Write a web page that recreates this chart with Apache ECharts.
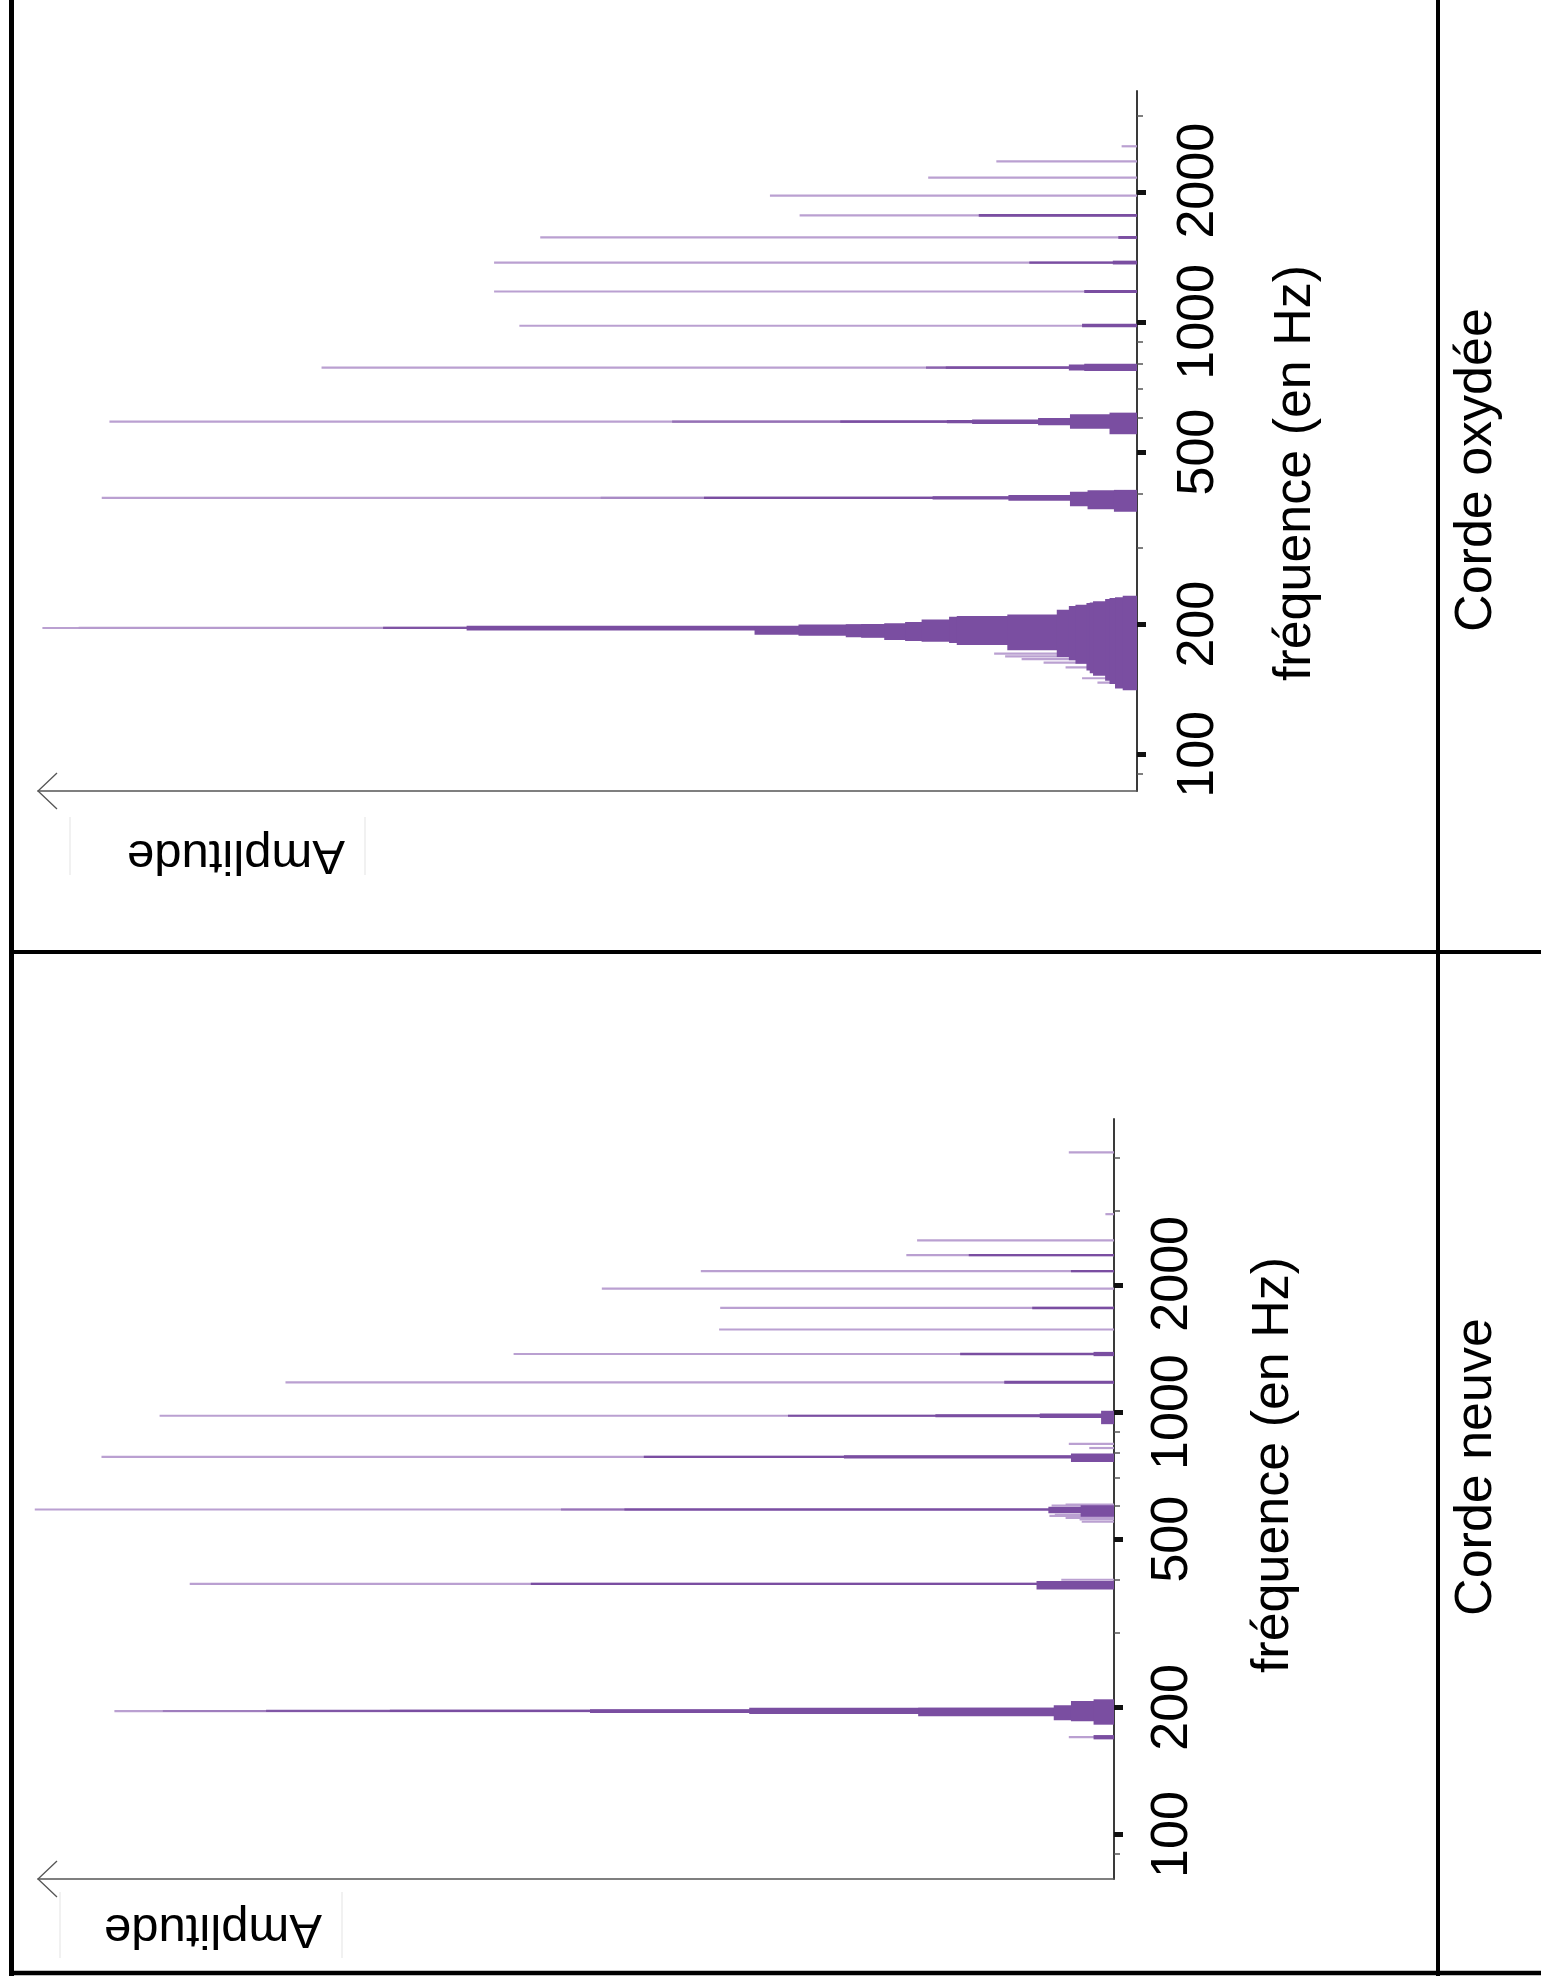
<!DOCTYPE html>
<html><head><meta charset="utf-8">
<script src="https://cdn.jsdelivr.net/npm/echarts@6/dist/echarts.min.js"></script>
<style>html,body{margin:0;padding:0;background:#fff}#c{width:1541px;height:1986px}</style>
</head><body><div id="c"></div>
<script>
// ---------- data ----------
const majorTicks = [100, 200, 500, 1000, 2000];
const minorTicksOxydee = [90, 300, 400, 600, 700, 800, 900, 3000];
const minorTicksNeuve = [90, 300, 400, 600, 700, 800, 900, 3000, 4000];
const freqRangeOxydee = [82.3, 3420];
const freqRangeNeuve = [78.5, 4938];
const ampRange = [0, 100];
const panelLabels = ['Corde oxydée', 'Corde neuve'];
const freqAxisName = 'fréquence (en Hz)';
const ampAxisName = 'Amplitude';

// spectral bands: [lowest freq (Hz), highest freq (Hz), amplitude (% of axis)]
const oxydeeBands = [
  // fundamental ~196 Hz and its skirt
  [196,196,99.6],[195.8,196.6,96.3],[195.3,197,68.6],[193.5,198.5,61],
  [189,198,34.8],[188,199.6,30.8],[186.6,200,26.5],[186.2,200.3,25.1],[184,201,23],
  [183,202.5,21.1],[182.3,205,19.6],[181,208,17.1],[179,209,16.4],[174.2,210.7,11.8],
  [168,216,7.3],[165,220.5,6.2],[162,222,5.6],[156.3,224,4.6],[154,224.5,4.3],
  [152.1,226,4.0],[148,228.7,2.9],[145.4,230,2.5],[142,231,2.0],[140.7,232.9,1.3],
  [171,171,13],[168.5,168.5,12],[166,166,10.5],[163,163,8.5],[159,159,6.5],[150,150,5],[146.5,146.5,3.6],
  // 392 Hz
  [392,392,94.2],[391,393,48.8],[390,394,39.4],[388.5,395.5,18.6],[386,398,11.7],
  [375,405,6.1],[369,408,4.5],[364,409,2.1],
  // 588 Hz
  [588,588,93.5],[586,590,42.3],[585,591,27],[583,593,17.3],[581,595,15],[577,600,9],
  [566,612,6.1],[550,617,2.5],
  // 784 Hz
  [784,784,74.2],[781,787,19.2],[779,789,17.4],[772,797,6.2],[770,800,4.8],
  // higher harmonics
  [980,980,56.2],[972,990,5.0],
  [1176,1176,58.5],[1166,1186,4.8],
  [1372,1372,58.5],[1364,1380,9.8],[1358,1386,2.2],
  [1568,1568,54.3],[1556,1580,1.7],
  [1764,1764,30.7],[1752,1776,14.4],
  [1960,1960,33.4],[2156,2156,19],[2352,2352,12.8],[2548,2548,1.4]
];

const neuveBands = [
  [170,170,4.2],[168,172,1.9],
  // fundamental ~196 Hz
  [196,196,92.9],[195.5,196.7,88.4],[195.3,197,78.8],[195,197.5,67.3],[194,198,48.7],
  [193,199.5,33.9],[190.5,199.5,18.2],[186.5,202.3,5.6],[185.5,207,4.0],[182,209,1.9],
  // 392 Hz
  [392,392,85.9],[389.5,394.5,54.2],[380,398,7.2],[401,401,4.9],
  // 588 Hz
  [588,588,100.3],[586,590,51.4],[584.5,591.5,45.5],[576,597,6.1],[565,602,3.1],
  [568,568,6],[571,571,5.5],[601,601,5.8],[604,604,4.5],[562,562,4.5],[557,557,3.2],[550,550,3.0],
  // 784 Hz
  [783,783,94.1],[778,788,43.7],[776,790,25.1],[762,798,4.0],[822,822,2.3],[841,841,4.2],
  // 980 Hz
  [980,980,88.7],[975,985,30.3],[972,988,16.6],[968,992,6.9],[936,1007,1.2],
  // higher harmonics
  [1176,1176,77],[1166,1186,10.2],
  [1372,1372,55.8],[1363,1381,14.3],[1356,1388,1.9],
  [1568,1568,36.7],
  [1764,1764,36.6],[1752,1776,7.6],
  [1960,1960,47.6],
  [2156,2156,38.4],[2144,2168,4.0],
  [2352,2352,19.3],[2338,2366,13.5],
  [2548,2548,18.3],
  [2940,2940,0.8],
  [4116,4116,4.2]
];

// ---------- chart ----------
const L10 = Math.log10;
const FONT = '"Liberation Sans", Arial, Helvetica, sans-serif';
function toData(bands) {
  return bands.map(b => [L10(b[0]), L10(b[1]), b[2]])
    .sort((a, b) => ((a[1] - a[0]) - (b[1] - b[0])) || (b[2] - a[2]));
}
const LIGHT = [186, 160, 209], DARK = [122, 78, 161];
function bandColor(h) {
  const t = Math.max(0, Math.min(1, (h - 0.7) / 1.0));
  const c = LIGHT.map((v, i) => Math.round(v + (DARK[i] - v) * t));
  return 'rgb(' + c.join(',') + ')';
}
function renderBand(params, api) {
  const f0 = api.value(0), f1 = api.value(1), a = api.value(2);
  const pa = api.coord([a, f0]);
  const pb = api.coord([a, f1]);
  const p0 = api.coord([0, f0]);
  const top = Math.min(pa[1], pb[1]), bot = Math.max(pa[1], pb[1]);
  const h = bot - top;
  const hr = Math.max(h, 2.2);
  const yc = (top + bot) / 2;
  return {
    type: 'rect',
    shape: { x: Math.min(pa[0], p0[0]), y: yc - hr / 2, width: Math.abs(p0[0] - pa[0]), height: hr },
    style: { fill: bandColor(h) }
  };
}

const G = [
  { left: 38, top: 91, width: 1099, height: 700, labelMargin: 36 },
  { left: 38, top: 1119, width: 1076, height: 760, labelMargin: 33 }
];

function xAxisFor(gi) {
  return {
    gridIndex: gi, type: 'value', min: ampRange[0], max: ampRange[1], inverse: true, position: 'bottom',
    axisLine: { show: true, onZero: false, lineStyle: { color: '#555', width: 1.5 } },
    axisTick: { show: false }, axisLabel: { show: false }, splitLine: { show: false }
  };
}
function majorAxisFor(gi, range) {
  const cv = majorTicks.map(L10);
  return {
    gridIndex: gi, type: 'value', position: 'right', min: L10(range[0]), max: L10(range[1]),
    axisLine: { show: true, onZero: false, lineStyle: { color: '#3a3a3a', width: 2 } },
    axisTick: { show: true, inside: false, length: 9, customValues: cv, lineStyle: { color: '#111', width: 5 } },
    axisLabel: {
      show: true, customValues: cv, rotate: 90, margin: G[gi].labelMargin,
      align: 'center', verticalAlign: 'top',
      fontSize: 52, fontFamily: FONT, color: '#000',
      formatter: v => {
        const n = Math.round(Math.pow(10, v));
        return n >= 2000 ? '{s|' + n + '}' : String(n);
      },
      rich: { s: { fontSize: 52, fontFamily: FONT, color: '#000', padding: [0, 0, 0, 22] } }
    },
    splitLine: { show: false }
  };
}
function minorAxisFor(gi, range, ticks) {
  return {
    gridIndex: gi, type: 'value', position: 'right', min: L10(range[0]), max: L10(range[1]),
    axisLine: { show: false },
    axisTick: { show: true, inside: false, length: 6, customValues: ticks.map(L10), lineStyle: { color: '#555', width: 1.5 } },
    axisLabel: { show: false }, splitLine: { show: false }
  };
}

function textEl(text, x, y, rot, size) {
  return {
    type: 'text', x: x, y: y, rotation: rot, silent: true,
    style: { text: text, fontSize: size, fontFamily: FONT, fill: '#000',
      align: 'center', verticalAlign: 'middle', textAlign: 'center', textVerticalAlign: 'middle' }
  };
}
function lineEl(x1, y1, x2, y2, color, w) {
  return { type: 'line', silent: true, shape: { x1, y1, x2, y2 }, style: { stroke: color, lineWidth: w } };
}
function arrowEl(gi) {
  const x = G[gi].left, y = G[gi].top + G[gi].height;
  return { type: 'polyline', silent: true, shape: { points: [[x + 19, y - 18], [x, y], [x + 19, y + 18]] },
    style: { stroke: '#555', lineWidth: 1.3, fill: null } };
}

const graphics = [
  // table borders
  lineEl(11.5, 0, 11.5, 1976, '#000', 5),
  lineEl(1438, 0, 1438, 1976, '#000', 4),
  lineEl(9, 952, 1541, 952, '#000', 4),
  lineEl(9, 1973, 1541, 1973, '#000', 4.5),
  // amplitude arrows
  arrowEl(0), arrowEl(1),
  // faint frame around "Amplitude"
  lineEl(70, 817, 70, 875, '#ececec', 1.5), lineEl(365, 817, 365, 875, '#ececec', 1.5),
  lineEl(60, 1892, 60, 1958, '#ececec', 1.5), lineEl(342, 1892, 342, 1958, '#ececec', 1.5),
  // texts
  textEl(ampAxisName, 236, 855, Math.PI, 49),
  textEl(ampAxisName, 213, 1929, Math.PI, 49),
  textEl(freqAxisName, 1296, 473, Math.PI / 2, 52),
  textEl(freqAxisName, 1274, 1465, Math.PI / 2, 52),
  textEl(panelLabels[0], 1477, 470, Math.PI / 2, 52),
  textEl(panelLabels[1], 1477, 1467, Math.PI / 2, 52)
];

const option = {
  animation: false,
  backgroundColor: '#fff',
  grid: G.map(g => ({ left: g.left, top: g.top, width: g.width, height: g.height, containLabel: false, outerBoundsMode: 'none' })),
  xAxis: [xAxisFor(0), xAxisFor(1)],
  yAxis: [
    majorAxisFor(0, freqRangeOxydee), minorAxisFor(0, freqRangeOxydee, minorTicksOxydee),
    majorAxisFor(1, freqRangeNeuve), minorAxisFor(1, freqRangeNeuve, minorTicksNeuve)
  ],
  series: [
    { type: 'custom', name: panelLabels[0], xAxisIndex: 0, yAxisIndex: 0, renderItem: renderBand,
      data: toData(oxydeeBands), encode: { x: 2, y: [0, 1] }, silent: true, clip: false },
    { type: 'custom', name: panelLabels[1], xAxisIndex: 1, yAxisIndex: 2, renderItem: renderBand,
      data: toData(neuveBands), encode: { x: 2, y: [0, 1] }, silent: true, clip: false }
  ],
  graphic: graphics
};
const chart = echarts.init(document.getElementById('c'));
chart.setOption(option);
</script>
</body></html>
